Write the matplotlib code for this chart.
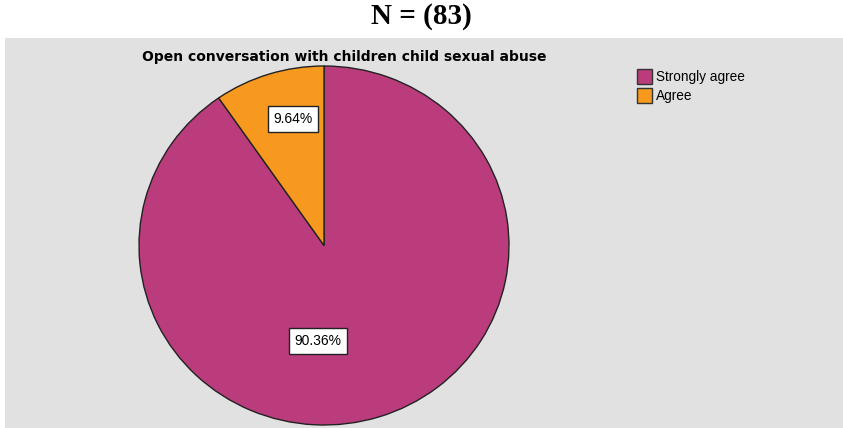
import matplotlib.pyplot as plt
from matplotlib.patches import Patch

labels = ["Strongly agree", "Agree"]
percents = [90.36, 9.64]
colors = ["#BA3C7C", "#F7991E"]

W, H = 843, 428
fig = plt.figure(figsize=(W / 100, H / 100), dpi=100)
fig.patch.set_facecolor("white")


def frac(x0, y_top, w, h):
    # pixel box (top-left origin) -> figure fraction rect
    return [x0 / W, 1 - (y_top + h) / H, w / W, h / H]


# grey panel
bg = fig.add_axes(frac(5, 38, 838, 390))
bg.set_facecolor("#E1E1E1")
bg.set_xticks([])
bg.set_yticks([])
for s in bg.spines.values():
    s.set_visible(False)

# pie drawn in its own axes (slightly wider than tall, like the original)
cx, cy, rx, ry = 324, 245.5, 185, 179.5
ax = fig.add_axes(frac(cx - rx, cy - ry, 2 * rx, 2 * ry))
ax.set_facecolor("none")
wedges, _, autotexts = ax.pie(
    percents, colors=colors, startangle=90, counterclock=False,
    autopct=lambda p: f"{p:.2f}%",
    wedgeprops=dict(edgecolor="#222222", linewidth=1.0),
    textprops=dict(fontsize=10, family="Liberation Sans"),
)
ax.set_aspect("auto")
ax.set_xlim(-1, 1)
ax.set_ylim(-1, 1)
ax.axis("off")

# label placement as in the original (pixel offsets from centre)
offsets = [(-6, -95.5), (-31, 126.5)]
for t, (dx, dy) in zip(autotexts, offsets):
    t.set_position((dx / rx, dy / ry))
    t.set_bbox(dict(boxstyle="square,pad=0.4", facecolor="white",
                    edgecolor="#222222", linewidth=1.0))

fig.text(344.5 / W, 1 - 57 / H, "Open conversation with children child sexual abuse",
         ha="center", va="center", fontsize=10, fontweight="bold",
         family="DejaVu Sans")

handles = [Patch(facecolor=c, edgecolor="#333333", label=l)
           for c, l in zip(colors, labels)]
fig.legend(handles=handles, loc="upper left",
           bbox_to_anchor=(630 / W, 1 - 62 / H),
           frameon=False, handlelength=1.1, handleheight=1.3,
           handletextpad=0.3, labelspacing=0.3, borderpad=0,
           prop=dict(family="Liberation Sans", size=9.8))

fig.text(421 / W, 1 - 16 / H, "N = (83)", ha="center", va="center",
         fontsize=21, fontweight="bold", family="Liberation Serif")

fig.savefig("out.png", dpi=100)
